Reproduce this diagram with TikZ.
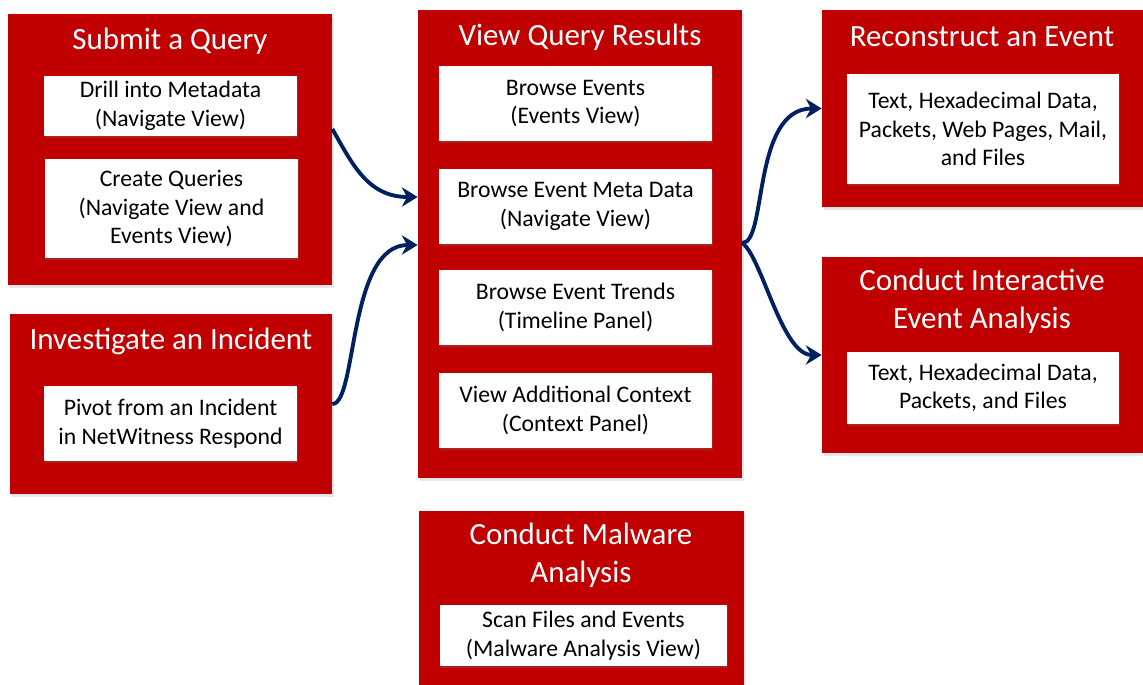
\documentclass[tikz,border=0pt]{standalone}
\usepackage{fontspec}
\setmainfont{Carlito}
\usetikzlibrary{arrows.meta,shadows}
\definecolor{boxred}{HTML}{C00000}
\definecolor{arrownavy}{HTML}{002060}

\begin{document}
\begin{tikzpicture}[x=0.02cm,y=-0.02cm,
    redbox/.style={fill=boxred,inner sep=0pt,drop shadow={opacity=0.2,shadow xshift=1pt,shadow yshift=-1.5pt}},
    whitebox/.style={fill=white,inner sep=0pt,align=center,font=\fontsize{13.5}{16.2}\selectfont,drop shadow={opacity=0.25,shadow xshift=0.8pt,shadow yshift=-1.2pt}},
    boxtitle/.style={text=white,align=center,font=\fontsize{17.6}{21.5}\selectfont},
    flow/.style={draw=arrownavy,line width=2.2pt,-{Stealth[length=9pt,width=11pt]}}]
      % \draw[help lines](0,0) grid[step=1cm] (1143,685);
      \useasboundingbox (0,0) rectangle (1143,685);

      % outer red panels
      \draw (170,149.5) node[redbox,minimum width=6.48cm,minimum height=5.42cm] (submit) {};
      \draw (171,404) node[redbox,minimum width=6.44cm,minimum height=3.6cm] (incident) {};
      \draw (580,244) node[redbox,minimum width=6.48cm,minimum height=9.36cm] (results) {};
      \draw (581.5,598) node[redbox,minimum width=6.5cm,minimum height=3.48cm] (malware) {};
      \draw (982.5,108.5) node[redbox,minimum width=6.42cm,minimum height=3.94cm] (reconstruct) {};
      \draw (982.5,355) node[redbox,minimum width=6.42cm,minimum height=3.92cm] (interactive) {};

      % panel titles
      \draw (170,41) node[boxtitle] (submittitle) {Submit a Query};
      \draw (171,341) node[boxtitle] (incidenttitle) {Investigate an Incident};
      \draw (580,37) node[boxtitle] (resultstitle) {View Query Results};
      \draw (581,555) node[boxtitle] (malwaretitle) {Conduct Malware\\Analysis};
      \draw (982,37) node[boxtitle] (reconstructtitle) {Reconstruct an Event};
      \draw (982,301) node[boxtitle] (interactivetitle) {Conduct Interactive\\Event Analysis};

      % white entries
      \draw (170.5,106) node[whitebox,minimum width=5.06cm,minimum height=1.2cm] (drill) {Drill into Metadata\\(Navigate View)};
      \draw (171.5,208.5) node[whitebox,minimum width=5.06cm,minimum height=1.98cm] (create) {Create Queries\\(Navigate View and\\Events View)};
      \draw (170.5,423.5) node[whitebox,minimum width=5.06cm,minimum height=1.5cm] (pivot) {Pivot from an Incident\\in NetWitness Respond};
      \draw (575.5,103.5) node[whitebox,minimum width=5.46cm,minimum height=1.5cm] (events) {Browse Events\\(Events View)};
      \draw (575.5,206.5) node[whitebox,minimum width=5.46cm,minimum height=1.5cm] (metadata) {Browse Event Meta Data\\(Navigate View)};
      \draw (575.5,307.5) node[whitebox,minimum width=5.46cm,minimum height=1.5cm] (trends) {Browse Event Trends\\(Timeline Panel)};
      \draw (575.5,410.5) node[whitebox,minimum width=5.46cm,minimum height=1.5cm] (context) {View Additional Context\\(Context Panel)};
      \draw (583.5,635.5) node[whitebox,minimum width=5.74cm,minimum height=1.22cm] (scan) {Scan Files and Events\\(Malware Analysis View)};
      \draw (983,129) node[whitebox,minimum width=5.44cm,minimum height=2.2cm] (textall) {Text, Hexadecimal Data,\\Packets, Web Pages, Mail,\\and Files};
      \draw (983,388) node[whitebox,minimum width=5.44cm,minimum height=1.44cm] (textsome) {Text, Hexadecimal Data,\\Packets, and Files};

      % connectors
      \draw[flow] ([yshift=0.41cm]submit.east) .. controls +(20,35) and +(-50,0) .. ([yshift=0.94cm]results.west);
      \draw[flow] (incident.east) .. controls +(25,0) and +(-70,0) .. ([yshift=-0.02cm]results.west);
      \draw[flow] ([yshift=0.02cm]results.east) .. controls +(25,0) and +(-70,0) .. (reconstruct.west);
      \draw[flow] ([yshift=0.02cm]results.east) .. controls +(20,15) and +(-40,0) .. (interactive.west);
    \end{tikzpicture}
\end{document}
